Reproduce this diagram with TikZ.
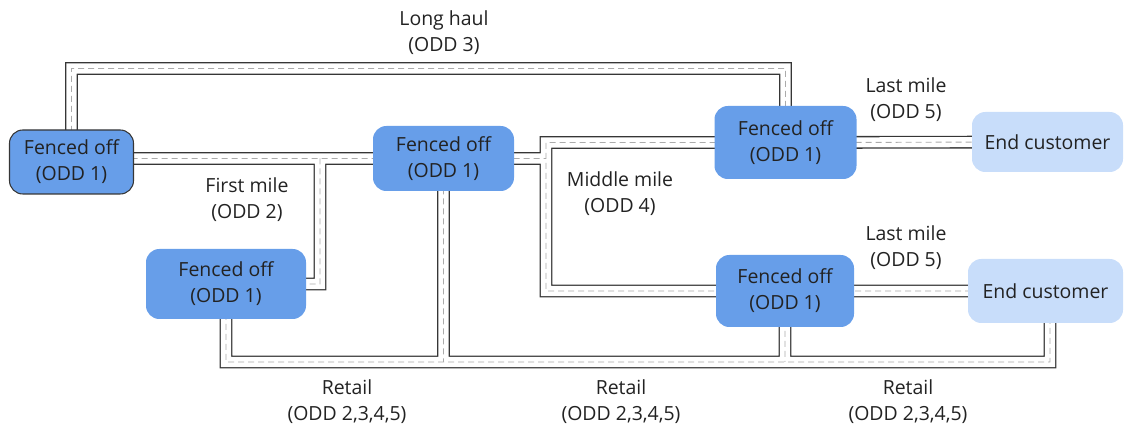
\documentclass[tikz,border=0pt]{standalone}
\usepackage{fontspec}
\setmainfont{Open Sans}
\definecolor{fence}{HTML}{679EE9}
\definecolor{home}{HTML}{C8DDFA}
\definecolor{ink}{HTML}{222222}
\definecolor{kerb}{HTML}{363636}
\definecolor{lane}{HTML}{ABABAB}
\pgfdeclarelayer{bg}
\pgfsetlayers{bg,main}
\tikzset{
  txt/.style={font=\fontsize{14.6}{19.5}\selectfont, text=ink, align=center, inner sep=0pt},
  hub/.style={txt, rectangle, rounded corners=10pt, fill=fence},
  dest/.style={hub, fill=home},
  road/.style={draw=kerb, line width=1pt, double=white, double distance=7.6pt,
    line join=miter,
    postaction={draw=lane, line width=0.7pt, dash pattern=on 4.5pt off 3pt}},
}
\begin{document}
\begin{tikzpicture}[x=0.75pt, y=-0.75pt]
\useasboundingbox (0,0) rectangle (1124,427);

% depots and customers
\node[hub, draw=kerb, line width=0.8pt, minimum width=93pt, minimum height=48pt] (A) at (71.5,162) {Fenced off\\(ODD 1)};
\node[hub, minimum width=105.75pt, minimum height=48.75pt] (B) at (443.5,158.5) {Fenced off\\(ODD 1)};
\node[hub, minimum width=106.5pt, minimum height=54.75pt] (C) at (785.5,142.5) {Fenced off\\(ODD 1)};
\node[hub, minimum width=103.5pt, minimum height=54pt] (D) at (785,291) {Fenced off\\(ODD 1)};
\node[hub, minimum width=120pt, minimum height=52.5pt] (E) at (226,284) {Fenced off\\(ODD 1)};
\node[dest, minimum width=113.25pt, minimum height=45pt] (F) at (1047.5,142) {End customer};
\node[dest, minimum width=116.25pt, minimum height=48pt] (G) at (1045.5,291) {End customer};

% route labels
\node[txt] (lh) at (444,33) {Long haul\\(ODD 3)};
\node[txt] (fm) at (247,200) {First mile\\(ODD 2)};
\node[txt] (mm) at (620,194) {Middle mile\\(ODD 4)};
\node[txt] (lm1) at (906,100) {Last mile\\(ODD 5)};
\node[txt] (lm2) at (906,248) {Last mile\\(ODD 5)};
\node[txt] (r1) at (347,402) {Retail\\(ODD 2,3,4,5)};
\node[txt] (r2) at (621,402) {Retail\\(ODD 2,3,4,5)};
\node[txt] (r3) at (908,402) {Retail\\(ODD 2,3,4,5)};

% junctions and bends of the road network
\coordinate (top) at (0,68.5);
\coordinate (fj) at (320,158.5);
\coordinate (mj) at (546,158.5);
\coordinate (rt) at (1050,362);

\begin{pgfonlayer}{bg}
\draw[road]
  (A.center |- B.center) -- (B.center)
  (fj) |- (E.center)
  (A.center) -- (A.center |- top) -| (C.center)
  (B.center) -- (mj)
  (C.center) -| (mj) |- (D.center)
  (C.center) -- (F.center)
  (D.center) -- (G.center)
  (E.center) |- (rt) -- (rt |- G.center)
  (B.center) -- (B.center |- rt)
  (D.center) -- (D.center |- rt);
\end{pgfonlayer}
\end{tikzpicture}
\end{document}
